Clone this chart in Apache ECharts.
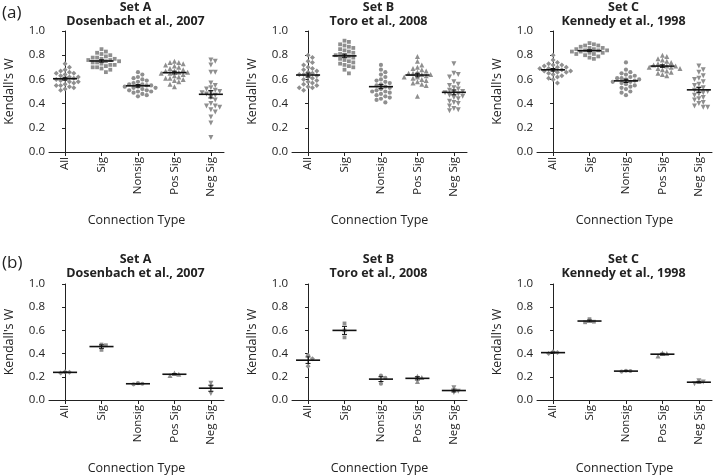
<!DOCTYPE html>
<html><head><meta charset="utf-8">
<script src="https://cdn.jsdelivr.net/npm/echarts@6/dist/echarts.min.js"></script>
<style>html,body{margin:0;padding:0;background:#fff}#c{width:720px;height:476px}</style>
</head><body><div id="c"></div>
<script>
const categories = ['All', 'Sig', 'Nonsig', 'Pos Sig', 'Neg Sig'];
const yTicks = [0, 0.2, 0.4, 0.6, 0.8, 1.0];
const setNames = ['Set A', 'Set B', 'Set C'];
const setRefs = ['Dosenbach et al., 2007', 'Toro et al., 2008', 'Kennedy et al., 1998'];
const rowLabels = ['(a)', '(b)'];

// ---- Row (a): individual values ----
const aA_all = [0.73,0.70,0.68,0.67,0.66,0.65,0.65,0.64,0.63,0.62,0.62,0.61,0.60,0.60,0.59,0.58,0.58,0.57,0.56,0.55,0.55,0.54,0.53,0.52,0.51];
const aA_sig = [0.85,0.83,0.82,0.81,0.80,0.79,0.78,0.78,0.77,0.77,0.76,0.76,0.75,0.75,0.74,0.74,0.73,0.72,0.72,0.71,0.70,0.70,0.69,0.68,0.66];
const aA_nonsig = [0.66,0.64,0.62,0.61,0.60,0.59,0.58,0.57,0.56,0.56,0.55,0.55,0.54,0.54,0.53,0.53,0.52,0.51,0.51,0.50,0.50,0.49,0.48,0.47,0.46];
const aA_pos = [0.75,0.74,0.74,0.73,0.72,0.71,0.70,0.69,0.68,0.67,0.67,0.66,0.66,0.65,0.65,0.64,0.63,0.62,0.61,0.61,0.60,0.59,0.58,0.56,0.54];
const aA_neg = [0.76,0.75,0.72,0.66,0.66,0.57,0.55,0.53,0.52,0.51,0.50,0.49,0.49,0.48,0.47,0.45,0.43,0.40,0.38,0.38,0.37,0.35,0.33,0.29,0.24,0.12];

const aB_all = [0.80,0.78,0.75,0.74,0.72,0.70,0.69,0.68,0.67,0.66,0.65,0.64,0.64,0.63,0.62,0.61,0.60,0.59,0.58,0.57,0.56,0.55,0.54,0.53,0.53,0.51];
const aB_sig = [0.92,0.91,0.89,0.88,0.87,0.86,0.85,0.84,0.83,0.82,0.81,0.80,0.80,0.79,0.78,0.77,0.76,0.75,0.74,0.73,0.72,0.71,0.70,0.68,0.65];
const aB_nonsig = [0.72,0.68,0.66,0.64,0.62,0.60,0.59,0.58,0.57,0.56,0.55,0.54,0.53,0.52,0.51,0.50,0.50,0.49,0.48,0.47,0.46,0.45,0.44,0.43,0.41];
const aB_pos = [0.79,0.75,0.72,0.70,0.69,0.68,0.67,0.66,0.65,0.65,0.64,0.64,0.63,0.62,0.62,0.61,0.60,0.59,0.58,0.57,0.56,0.55,0.46];
const aB_neg = [0.73,0.65,0.64,0.62,0.58,0.56,0.55,0.53,0.52,0.51,0.50,0.49,0.49,0.48,0.47,0.46,0.45,0.44,0.42,0.41,0.40,0.38,0.36,0.35,0.34];

const aC_all = [0.80,0.76,0.74,0.73,0.72,0.72,0.71,0.70,0.70,0.69,0.69,0.68,0.68,0.67,0.67,0.66,0.66,0.65,0.64,0.63,0.62,0.61,0.60,0.57];
const aC_sig = [0.90,0.89,0.88,0.88,0.87,0.86,0.86,0.85,0.85,0.84,0.84,0.84,0.83,0.83,0.82,0.82,0.81,0.81,0.80,0.79,0.78,0.77];
const aC_nonsig = [0.74,0.68,0.66,0.65,0.64,0.63,0.62,0.61,0.61,0.60,0.60,0.59,0.58,0.58,0.57,0.56,0.55,0.54,0.53,0.52,0.50,0.49,0.47];
const aC_pos = [0.80,0.79,0.77,0.76,0.75,0.74,0.73,0.72,0.72,0.71,0.71,0.70,0.70,0.69,0.69,0.68,0.67,0.66,0.65,0.64,0.63];
const aC_neg = [0.71,0.68,0.66,0.63,0.61,0.60,0.58,0.56,0.55,0.53,0.52,0.51,0.50,0.49,0.48,0.47,0.45,0.44,0.43,0.41,0.40,0.38,0.37,0.37];

// ---- Row (b): individual values ----
const bA_all = [0.243,0.232,0.240];
const bA_sig = [0.478,0.432,0.472];
const bA_nonsig = [0.145,0.135,0.140];
const bA_pos = [0.232,0.212,0.222];
const bA_neg = [0.145,0.055,0.105];

const bB_all = [0.385,0.290,0.355];
const bB_sig = [0.660,0.540,0.600];
const bB_nonsig = [0.210,0.140,0.190];
const bB_pos = [0.205,0.160,0.195];
const bB_neg = [0.105,0.065,0.075];

const bC_all = [0.415,0.400,0.410];
const bC_sig = [0.697,0.670,0.675];
const bC_nonsig = [0.252,0.245,0.250];
const bC_pos = [0.405,0.380,0.400];
const bC_neg = [0.165,0.140,0.155];

const panels = [
  [aA_all, aA_sig, aA_nonsig, aA_pos, aA_neg],
  [aB_all, aB_sig, aB_nonsig, aB_pos, aB_neg],
  [aC_all, aC_sig, aC_nonsig, aC_pos, aC_neg],
  [bA_all, bA_sig, bA_nonsig, bA_pos, bA_neg],
  [bB_all, bB_sig, bB_nonsig, bB_pos, bB_neg],
  [bC_all, bC_sig, bC_nonsig, bC_pos, bC_neg]
];

// ---- layout ----
const FONT = 'Open Sans';
const gridLefts = [49, 292, 537];
const gridW = 175;
const rowTops = [31, 284];
const rowH = [121, 122];
const X_MIN = -0.44, X_MAX = 4.36;
const symbols = ['diamond', 'rect', 'circle', 'triangle', 'triangle'];
const symSizes = [5, 3.8, 4.2, 5, 5];
const symRot = [0, 0, 0, 0, 180];
const GRAY = '#8f8f8f';
const MARK_D = 4.4; // spacing between mark centres in px

function beeswarm(vals, sx, sy) {
  const order = vals.map((v, i) => i).sort((i, j) => vals[j] - vals[i]);
  const placed = [];
  const offs = new Array(vals.length);
  const step = MARK_D / 2;
  order.forEach(i => {
    const py = vals[i] * sy;
    for (let k = 0; k < 60; k++) {
      const m = Math.ceil(k / 2) * (k % 2 === 1 ? 1 : -1);
      const px = m * step;
      let ok = true;
      for (const p of placed) {
        const dx = p[0] - px, dy = p[1] - py;
        if (dx * dx + dy * dy < MARK_D * MARK_D) { ok = false; break; }
      }
      if (ok) { placed.push([px, py]); offs[i] = px / sx; break; }
    }
  });
  return offs;
}
function mean(a) { return a.reduce((s, v) => s + v, 0) / a.length; }
function sem(a) {
  const m = mean(a);
  const sd = Math.sqrt(a.reduce((s, v) => s + (v - m) * (v - m), 0) / (a.length - 1));
  return sd / Math.sqrt(a.length);
}

const grids = [], xAxes = [], yAxes = [], series = [], graphics = [];
panels.forEach((cats, p) => {
  const row = Math.floor(p / 3), col = p % 3;
  grids.push({ left: gridLefts[col], top: rowTops[row], width: gridW, height: rowH[row], containLabel: false });
  xAxes.push({
    gridIndex: p, type: 'value', min: X_MIN, max: X_MAX,
    name: 'Connection Type', nameLocation: 'middle', nameGap: 62,
    nameTextStyle: { fontFamily: FONT, fontSize: 12.5, color: '#222' },
    axisLine: { show: true, lineStyle: { color: '#222', width: 1 } },
    axisTick: { show: true, customValues: [0, 1, 2, 3, 4], length: 4, lineStyle: { color: '#222' } },
    axisLabel: { customValues: [0, 1, 2, 3, 4], rotate: 90, formatter: v => categories[Math.round(v)],
      fontFamily: FONT, fontSize: 11.5, color: '#222', margin: 5 },
    splitLine: { show: false }
  });
  yAxes.push({
    gridIndex: p, type: 'value', min: 0, max: 1, interval: 0.2,
    name: "Kendall's W", nameLocation: 'middle', nameGap: 33,
    nameTextStyle: { fontFamily: FONT, fontSize: 12.5, color: '#222' },
    axisLine: { show: true, lineStyle: { color: '#222', width: 1 } },
    axisTick: { show: true, length: 3, lineStyle: { color: '#222' } },
    axisLabel: { formatter: v => v.toFixed(1), fontFamily: FONT, fontSize: 11.5, color: '#222', margin: 4 },
    splitLine: { show: false }
  });
  const sx = gridW / (X_MAX - X_MIN), sy = rowH[row];
  const pts = [], stats = [];
  cats.forEach((vals, ci) => {
    const offs = beeswarm(vals, sx, sy);
    vals.forEach((v, i) => pts.push([ci + offs[i], v, ci]));
    stats.push([ci, mean(vals), sem(vals)]);
  });
  series.push({
    type: 'scatter', xAxisIndex: p, yAxisIndex: p, data: pts, z: 2,
    symbol: (val) => symbols[val[2]], symbolSize: (val) => symSizes[val[2]],
    symbolRotate: (val) => symRot[val[2]],
    itemStyle: { color: GRAY, opacity: 1 }, silent: true, animation: false
  });
  series.push({
    type: 'custom', xAxisIndex: p, yAxisIndex: p, data: stats, z: 3, encode: { x: 0, y: 1 },
    silent: true, animation: false,
    renderItem: (params, api) => {
      const x = api.value(0), m = api.value(1), se = api.value(2);
      const pL = api.coord([x - 0.33, m]), pR = api.coord([x + 0.33, m]);
      const pT = api.coord([x, m + se]), pB = api.coord([x, m - se]);
      const st = { stroke: '#111', lineWidth: 1 };
      return { type: 'group', children: [
        { type: 'line', shape: { x1: pL[0], y1: pL[1], x2: pR[0], y2: pR[1] }, style: { stroke: '#111', lineWidth: 1.6 } },
        { type: 'line', shape: { x1: pT[0], y1: pT[1], x2: pB[0], y2: pB[1] }, style: st },
        { type: 'line', shape: { x1: pT[0] - 2.5, y1: pT[1], x2: pT[0] + 2.5, y2: pT[1] }, style: st },
        { type: 'line', shape: { x1: pB[0] - 2.5, y1: pB[1], x2: pB[0] + 2.5, y2: pB[1] }, style: st }
      ] };
    }
  });
  const cx = gridLefts[col] + gridW / 2 - 1;
  const ty = row === 0 ? 1 : 253;
  graphics.push({ type: 'text', x: cx, y: ty, style: { text: setNames[col], textAlign: 'center', textVerticalAlign: 'top',
    font: `bold 12.5px "${FONT}"`, fill: '#222' } });
  graphics.push({ type: 'text', x: cx, y: ty + 14, style: { text: setRefs[col], textAlign: 'center', textVerticalAlign: 'top',
    font: `bold 12.5px "${FONT}"`, fill: '#222' } });
});
graphics.push({ type: 'text', x: 2, y: 5, style: { text: rowLabels[0], font: `17px "${FONT}"`, fill: '#222' } });
graphics.push({ type: 'text', x: 2, y: 255, style: { text: rowLabels[1], font: `17px "${FONT}"`, fill: '#222' } });

const chart = echarts.init(document.getElementById('c'), null, { renderer: 'canvas' });
chart.setOption({
  animation: false, backgroundColor: '#fff',
  grid: grids, xAxis: xAxes, yAxis: yAxes, series: series, graphic: graphics
});
</script></body></html>
